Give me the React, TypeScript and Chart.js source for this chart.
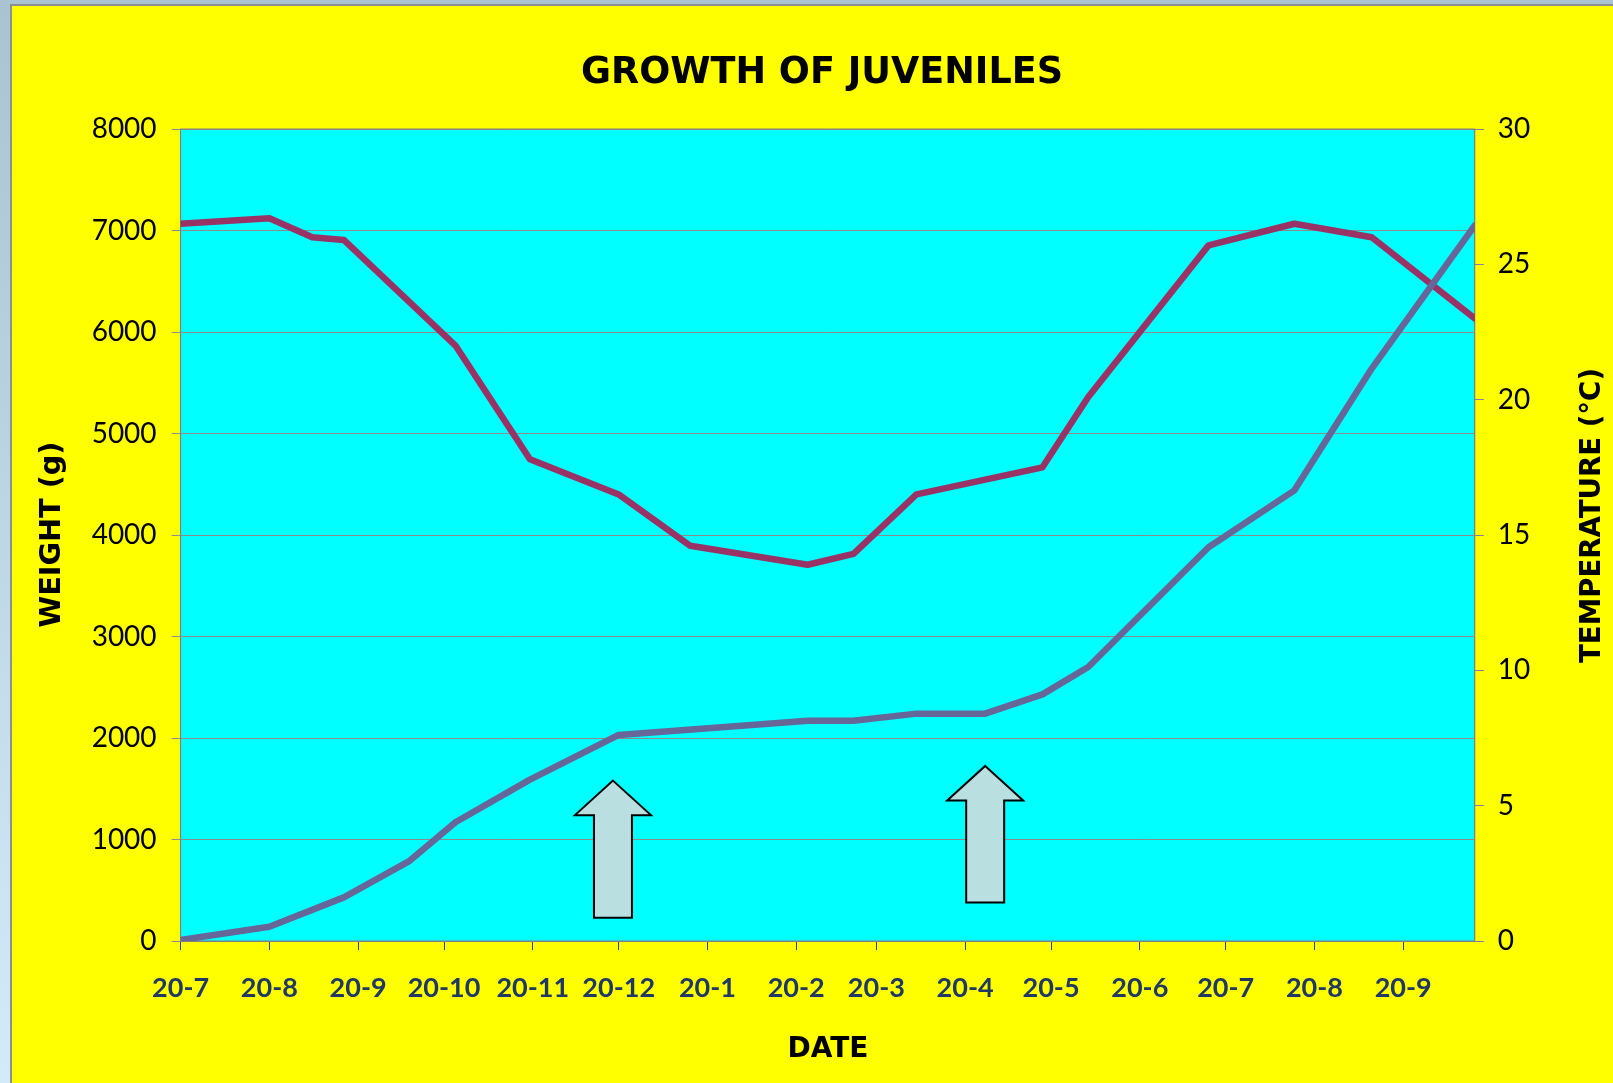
import React, { useEffect, useRef } from 'react';
import { Chart, registerables } from 'chart.js';

Chart.register(...registerables);

// ---- data ----
const START_DATE = '2009-07-20';
const AXIS_END_DATE = '2010-10-15';

const tickDates = [
  '2009-07-20', '2009-08-20', '2009-09-20', '2009-10-20', '2009-11-20', '2009-12-20',
  '2010-01-20', '2010-02-20', '2010-03-20', '2010-04-20', '2010-05-20', '2010-06-20',
  '2010-07-20', '2010-08-20', '2010-09-20',
];
const tickLabels = [
  '20-7', '20-8', '20-9', '20-10', '20-11', '20-12',
  '20-1', '20-2', '20-3', '20-4', '20-5', '20-6',
  '20-7', '20-8', '20-9',
];

const weightDates = [
  '2009-07-20', '2009-08-20', '2009-09-15', '2009-10-08', '2009-10-24', '2009-11-19',
  '2009-12-20', '2010-02-24', '2010-03-12', '2010-04-03', '2010-04-27', '2010-05-17',
  '2010-06-02', '2010-07-14', '2010-08-13', '2010-09-09', '2010-10-15',
];
const weightValues = [
  10, 140, 430, 790, 1170, 1590,
  2030, 2170, 2170, 2240, 2240, 2430,
  2700, 3880, 4440, 5640, 7050,
];

const tempDates = [
  '2009-07-20', '2009-08-20', '2009-09-04', '2009-09-15', '2009-10-24', '2009-11-19',
  '2009-12-20', '2010-01-14', '2010-02-24', '2010-03-12', '2010-04-03', '2010-05-17',
  '2010-06-02', '2010-07-14', '2010-08-13', '2010-09-09', '2010-10-15',
];
const tempValues = [
  26.5, 26.7, 26.0, 25.9, 22.0, 17.8,
  16.5, 14.6, 13.9, 14.3, 16.5, 17.5,
  20.1, 25.7, 26.5, 26.0, 23.0,
];

const arrowDates = ['2009-12-18', '2010-04-27'];
const arrowTipWeights = [1580, 1725];
const arrowBaseWeights = [230, 380];

const TITLE = 'GROWTH OF JUVENILES';
const Y_TITLE = 'WEIGHT (g)';
const Y1_TITLE = 'TEMPERATURE (°C)';
const X_TITLE = 'DATE';

const toDay = (d: string) => (Date.parse(d) - Date.parse(START_DATE)) / 86400000;
const tickDays = tickDates.map(toDay);

const CW = 1601;
const CH = 1077;

export default function App() {
  const ref = useRef<HTMLCanvasElement | null>(null);

  useEffect(() => {
    const canvas = ref.current;
    if (!canvas) return;

    const bgPlugin = {
      id: 'plotBg',
      beforeDraw(chart: any) {
        const { ctx, chartArea: a } = chart;
        ctx.save();
        ctx.fillStyle = '#00ffff';
        ctx.fillRect(a.left, a.top, a.right - a.left, a.bottom - a.top);
        ctx.restore();
      },
      beforeDatasetsDraw(chart: any) {
        const { ctx, chartArea: a } = chart;
        ctx.save();
        ctx.strokeStyle = '#808080';
        ctx.lineWidth = 1;
        ctx.strokeRect(a.left, a.top, a.right - a.left, a.bottom - a.top);
        ctx.restore();
      },
    };

    const arrowPlugin = {
      id: 'arrows',
      afterDatasetsDraw(chart: any) {
        const { ctx } = chart;
        const xs = chart.scales.x;
        const ys = chart.scales.y;
        ctx.save();
        arrowDates.forEach((d, i) => {
          const cx = xs.getPixelForValue(toDay(d));
          const tip = ys.getPixelForValue(arrowTipWeights[i]);
          const base = ys.getPixelForValue(arrowBaseWeights[i]);
          const headW = 38;
          const shaftW = 19;
          const headH = 34.5;
          ctx.beginPath();
          ctx.moveTo(cx, tip);
          ctx.lineTo(cx + headW, tip + headH);
          ctx.lineTo(cx + shaftW, tip + headH);
          ctx.lineTo(cx + shaftW, base);
          ctx.lineTo(cx - shaftW, base);
          ctx.lineTo(cx - shaftW, tip + headH);
          ctx.lineTo(cx - headW, tip + headH);
          ctx.closePath();
          ctx.fillStyle = '#b9dfe1';
          ctx.fill();
          ctx.strokeStyle = '#000000';
          ctx.lineWidth = 2;
          ctx.lineJoin = 'miter';
          ctx.stroke();
        });
        ctx.restore();
      },
    };

    const textPlugin = {
      id: 'texts',
      afterDraw(chart: any) {
        const { ctx } = chart;
        ctx.save();
        ctx.fillStyle = '#000000';
        ctx.textAlign = 'center';
        ctx.textBaseline = 'alphabetic';

        ctx.font = 'bold 37px "DejaVu Sans"';
        ctx.fillText(TITLE, 810, 77, 482);

        ctx.font = 'bold 28px "DejaVu Sans"';
        ctx.fillText(X_TITLE, 816, 1050.5, 82);

        ctx.save();
        ctx.translate(47.5, 528.5);
        ctx.rotate(-Math.PI / 2);
        ctx.font = 'bold 29px "DejaVu Sans"';
        ctx.fillText(Y_TITLE, 0, 0, 186);
        ctx.restore();

        ctx.save();
        ctx.translate(1588, 509.5);
        ctx.rotate(-Math.PI / 2);
        ctx.font = 'bold 29px "DejaVu Sans"';
        ctx.fillText(Y1_TITLE, 0, 0, 295);
        ctx.restore();

        ctx.restore();
      },
    };

    const chart = new Chart(canvas, {
      type: 'line',
      data: {
        datasets: [
          {
            label: 'Weight',
            data: weightDates.map((d, i) => ({ x: toDay(d), y: weightValues[i] })),
            yAxisID: 'y',
            borderColor: '#666699',
            backgroundColor: '#666699',
            borderWidth: 6.5,
            pointRadius: 0,
            tension: 0,
            borderJoinStyle: 'round',
            borderCapStyle: 'round',
            fill: false,
          },
          {
            label: 'Temperature',
            data: tempDates.map((d, i) => ({ x: toDay(d), y: tempValues[i] })),
            yAxisID: 'y1',
            borderColor: '#993366',
            backgroundColor: '#993366',
            borderWidth: 6.5,
            pointRadius: 0,
            tension: 0,
            borderJoinStyle: 'round',
            borderCapStyle: 'round',
            fill: false,
          },
        ],
      },
      options: {
        animation: false,
        responsive: false,
        devicePixelRatio: 1,
        layout: { padding: { top: 123, left: 0, right: 0, bottom: 0 } },
        plugins: {
          legend: { display: false },
          tooltip: { enabled: false },
          title: { display: false },
        },
        scales: {
          x: {
            type: 'linear',
            position: 'bottom',
            min: 0,
            max: toDay(AXIS_END_DATE),
            afterBuildTicks: (s: any) => {
              s.ticks = tickDays.map((v) => ({ value: v }));
            },
            afterFit: (s: any) => {
              s.height = 142;
            },
            ticks: {
              autoSkip: false,
              maxRotation: 0,
              minRotation: 0,
              padding: 22,
              color: '#1f3864',
              font: { family: 'Lato', size: 27, weight: 'bold' },
              callback: (_v: any, i: number) => tickLabels[i],
            },
            grid: {
              drawOnChartArea: false,
              drawTicks: true,
              tickLength: 9,
              tickColor: '#34457a',
            },
            border: { display: true, color: '#808080', width: 1 },
          },
          y: {
            type: 'linear',
            position: 'left',
            min: 0,
            max: 8000,
            afterFit: (s: any) => {
              s.width = 168.6;
            },
            ticks: {
              stepSize: 1000,
              padding: 15,
              color: '#000000',
              font: { family: 'Lato', size: 28 },
              callback: (v: any) => String(v),
            },
            grid: { color: '#8c8c8c', tickLength: 9, tickColor: '#8c8c8c', lineWidth: 1 },
            border: { display: true, color: '#808080', width: 1 },
          },
          y1: {
            type: 'linear',
            position: 'right',
            min: 0,
            max: 30,
            afterFit: (s: any) => {
              s.width = CW - 1462.8;
            },
            ticks: {
              stepSize: 5,
              padding: 14,
              color: '#000000',
              font: { family: 'Lato', size: 28 },
              callback: (v: any) => String(v),
            },
            grid: { drawOnChartArea: false, tickLength: 9, tickColor: '#8080a8' },
            border: { display: true, color: '#808080', width: 1 },
          },
        },
      } as any,
      plugins: [bgPlugin, arrowPlugin, textPlugin],
    });

    return () => {
      chart.destroy();
    };
  }, []);

  return (
    <div
      style={{
        position: 'fixed',
        left: 0,
        top: 0,
        width: 1613,
        height: 1083,
        overflow: 'hidden',
        background: 'linear-gradient(#a9c3d2, #d3eafa)',
      }}
    >
      <div
        style={{
          position: 'absolute',
          left: 10,
          top: 4,
          width: CW,
          height: CH,
          borderLeft: '2px solid #8f8f8f',
          borderTop: '2px solid #8f8f8f',
          background: '#ffff00',
        }}
      >
        <canvas ref={ref} width={CW} height={CH} style={{ display: 'block', width: CW, height: CH }} />
      </div>
    </div>
  );
}
